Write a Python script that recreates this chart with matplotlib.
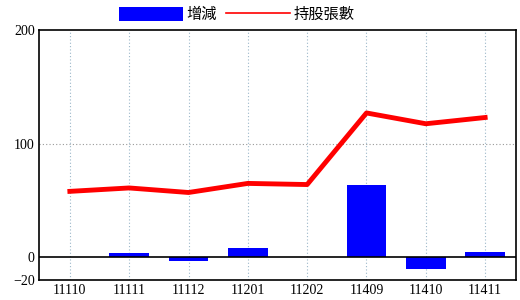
import matplotlib
matplotlib.use('Agg')
import matplotlib.pyplot as plt
from matplotlib.patches import Patch
from matplotlib.lines import Line2D

months = ['11110', '11111', '11112', '11201', '11202', '11409', '11410', '11411']
change = [0, 3.5, -3, 8, 0, 64, -10, 5]
holding = [58, 61, 57, 65, 64, 127, 117.5, 123]

plt.rcParams['font.family'] = ['Liberation Serif', 'Noto Sans CJK TC']

fig = plt.figure(figsize=(5.2, 3.0), dpi=100)
ax = fig.add_axes([39 / 520, 20 / 300, 477 / 520, 250 / 300])

x = list(range(len(months)))
ax.bar(x, change, width=0.67, color='#0000ff', zorder=3)
ax.plot(x, holding, color='#ff0000', linewidth=3.5, zorder=4)
ax.axhline(0, color='black', linewidth=1.2, zorder=5)
ax.axhline(100, color='#999999', linewidth=0.8, linestyle=(0, (1, 2)), zorder=1)
for xi in x:
    ax.axvline(xi, color='#9bb7c9', linewidth=0.8, linestyle=(0, (1, 2)), zorder=1)

ax.set_xlim(-0.52, len(months) - 0.48)
ax.set_ylim(-20, 200)
ax.set_yticks([-20, 0, 100, 200])
ax.set_xticks(x)
ax.set_xticklabels(months)
ax.tick_params(length=0, labelsize=10, pad=3)
for s in ax.spines.values():
    s.set_linewidth(1.2)
    s.set_color('black')

handles = [Patch(facecolor='#0000ff', edgecolor='none'),
           Line2D([0], [0], color='#ff0000', linewidth=1.2)]
fig.legend(handles, ['增減', '持股張數'], loc='upper center',
           bbox_to_anchor=(0.455, 1.025), ncol=2, frameon=False,
           prop={'family': 'Noto Sans CJK TC', 'size': 11},
           handlelength=4.2, handleheight=1.1, handletextpad=0.2, columnspacing=0.6)

fig.savefig('out.png', dpi=100, facecolor='white')
